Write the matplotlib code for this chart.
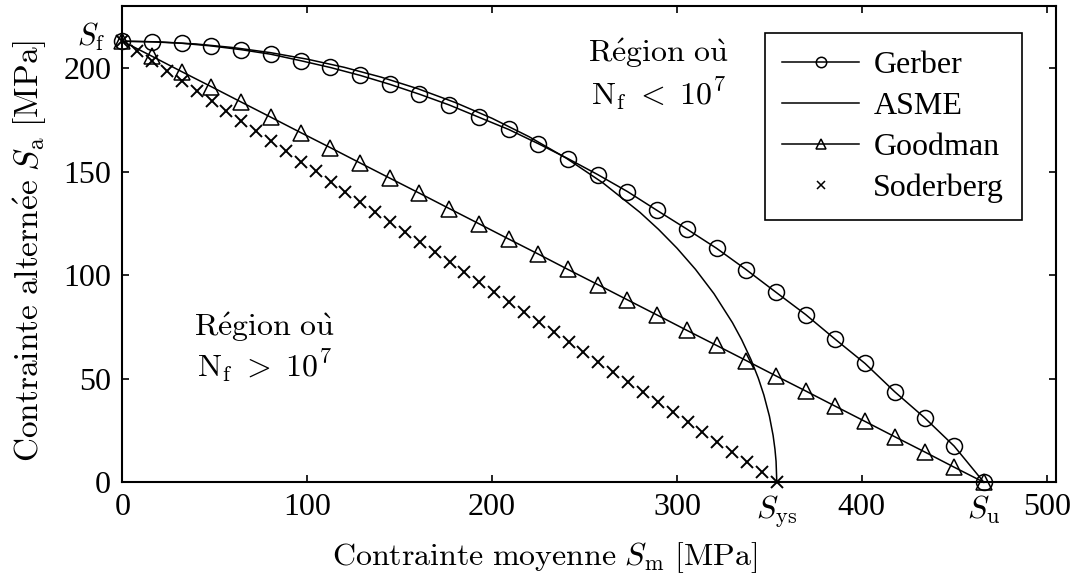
import matplotlib
matplotlib.use("Agg")
import matplotlib.pyplot as plt
import matplotlib.transforms as mtransforms

plt.rcParams['font.family'] = ['Liberation Serif', 'DejaVu Serif']
plt.rcParams['mathtext.fontset'] = 'cm'

# ---- data (MPa) ----
S_f = 213.0
S_ys = 354.0
S_u = 466.0

sm_gerber = [0.0, 16.1, 32.1, 48.2, 64.3, 80.3, 96.4, 112.5, 128.6, 144.6,
             160.7, 176.8, 192.8, 208.9, 225.0, 241.0, 257.1, 273.2, 289.2, 305.3,
             321.4, 337.4, 353.5, 369.6, 385.7, 401.7, 417.8, 433.9, 449.9, 466.0]
sa_gerber = [213.0, 212.7, 212.0, 210.7, 208.9, 206.7, 203.6, 200.3, 196.5, 192.2,
             187.4, 182.2, 176.3, 170.4, 163.5, 156.3, 148.6, 140.4, 131.3, 122.3,
             113.0, 102.7, 91.8, 81.0, 69.0, 57.4, 43.7, 31.2, 17.5, 0.0]

sm_asme = [0, 20, 40, 60, 80, 100, 120, 140, 160, 180, 200, 220, 240, 260, 280,
           290, 300, 310, 320, 330, 335, 340, 344, 347, 350, 352, 353, 353.6, 354]
sa_asme = [213.0, 212.66, 211.64, 209.92, 207.49, 204.32, 200.39, 195.64, 190.00,
           183.41, 175.75, 166.87, 156.57, 144.55, 130.33, 122.15, 113.07, 102.84,
           91.09, 77.09, 68.84, 59.31, 50.27, 42.14, 31.93, 22.61, 15.98, 10.12, 0.0]

sm_goodman = sm_gerber
sa_goodman = [213.0, 205.7, 198.3, 191.0, 183.6, 176.3, 168.9, 161.6, 154.2, 146.9,
              139.6, 132.2, 124.9, 117.5, 110.2, 102.8, 95.5, 88.1, 80.8, 73.4,
              66.1, 58.8, 51.4, 44.1, 36.7, 29.4, 22.0, 14.7, 7.3, 0.0]

sm_soderberg = [0.0, 8.0, 16.1, 24.1, 32.2, 40.2, 48.3, 56.3, 64.4, 72.4,
                80.5, 88.5, 96.5, 104.6, 112.6, 120.7, 128.7, 136.8, 144.8, 152.9,
                160.9, 169.0, 177.0, 185.0, 193.1, 201.1, 209.2, 217.2, 225.3, 233.3,
                241.4, 249.4, 257.5, 265.5, 273.5, 281.6, 289.6, 297.7, 305.7, 313.8,
                321.8, 329.9, 337.9, 346.0, 354.0]
sa_soderberg = [213.0, 208.2, 203.3, 198.5, 193.6, 188.8, 184.0, 179.1, 174.3, 169.4,
                164.6, 159.8, 154.9, 150.1, 145.2, 140.4, 135.5, 130.7, 125.9, 121.0,
                116.2, 111.3, 106.5, 101.7, 96.8, 92.0, 87.1, 82.3, 77.5, 72.6,
                67.8, 62.9, 58.1, 53.3, 48.4, 43.6, 38.7, 33.9, 29.0, 24.2,
                19.4, 14.5, 9.7, 4.8, 0.0]

x_ticks = [0, 100, 200, 300, 400, 500]
y_ticks = [0, 50, 100, 150, 200]

FS = 23

# ---- figure ----
fig = plt.figure(figsize=(10.75, 5.81), dpi=100)
ax = fig.add_axes([0.1138, 0.1699, 0.8685, 0.8198])

lw = 1.1
h1, = ax.plot(sm_gerber, sa_gerber, '-', color='black', lw=lw, marker='o',
              ms=11.5, mfc='none', mew=1.1, clip_on=False, label='Gerber')
h2, = ax.plot(sm_asme, sa_asme, '-', color='black', lw=lw, label='ASME')
h3, = ax.plot(sm_goodman, sa_goodman, '-', color='black', lw=lw, marker='^',
              ms=12, mfc='none', mew=1.1, clip_on=False, label='Goodman')
h4, = ax.plot(sm_soderberg, sa_soderberg, linestyle='none', color='black',
              marker='x', ms=9, mew=1.4, clip_on=False, label='Soderberg')

ax.set_xlim(0, 505)
ax.set_ylim(0, 230)

ax.set_xticks(x_ticks)
ax.set_xticklabels([str(v) for v in x_ticks])
ax.set_yticks(y_ticks)
ax.set_yticklabels([str(v) for v in y_ticks])
ax.set_xticks([S_ys, S_u], labels=[r'$S_\mathrm{ys}$', r'$S_\mathrm{u}$'], minor=True)

ax.tick_params(which='major', direction='in', length=5, width=1.2,
               top=True, right=True, labelsize=FS, pad=8)
ax.tick_params(axis='x', which='minor', direction='in', length=0, labelsize=FS, pad=8)
for s in ax.spines.values():
    s.set_linewidth(1.5)

# S_f label on the y axis (acts as an extra tick label)
trans = mtransforms.blended_transform_factory(ax.transAxes, ax.transData)
ax.text(-0.018, S_f + 2.0, r'$S_\mathrm{f}$', transform=trans, fontsize=22,
        ha='right', va='center')

ax.set_xlabel(r'$\mathrm{Contrainte\ moyenne}\ S_\mathrm{m}\ [\mathrm{MPa}]$', fontsize=FS)
ax.set_ylabel(r'$\mathrm{Contrainte\ altern\acute{e}e}\ S_\mathrm{a}\ [\mathrm{MPa}]$', fontsize=24)
ax.xaxis.set_label_coords(0.4527, -0.122)
ax.yaxis.set_label_coords(-0.079, 0.485)

ax.text(289.9, 207.1, r'$\mathrm{R\acute{e}gion\ o\grave{u}}$', fontsize=FS,
        ha='center', va='center')
ax.text(289.9, 187.8, r'$\mathrm{N}_\mathrm{f}\ <\ 10^7$', fontsize=FS,
        ha='center', va='center')
ax.text(76.7, 74.9, r'$\mathrm{R\acute{e}gion\ o\grave{u}}$', fontsize=FS,
        ha='center', va='center')
ax.text(76.7, 56.6, r'$\mathrm{N}_\mathrm{f}\ >\ 10^7$', fontsize=FS,
        ha='center', va='center')

leg = ax.legend(handles=[h1, h2, h3, h4], loc='upper left',
                bbox_to_anchor=(0.688, 0.943), borderaxespad=0,
                fontsize=FS, frameon=True, fancybox=False, framealpha=1,
                edgecolor='black', handlelength=2.4, handletextpad=0.45,
                labelspacing=0.36, borderpad=0.55)
leg.get_frame().set_linewidth(1.2)
for h in leg.legend_handles:
    if h.get_marker() in ('o', '^'):
        h.set_markersize(7.5)
    elif h.get_marker() == 'x':
        h.set_markersize(6)
        h.set_markeredgewidth(1.1)

fig.savefig('out.png', dpi=100)
